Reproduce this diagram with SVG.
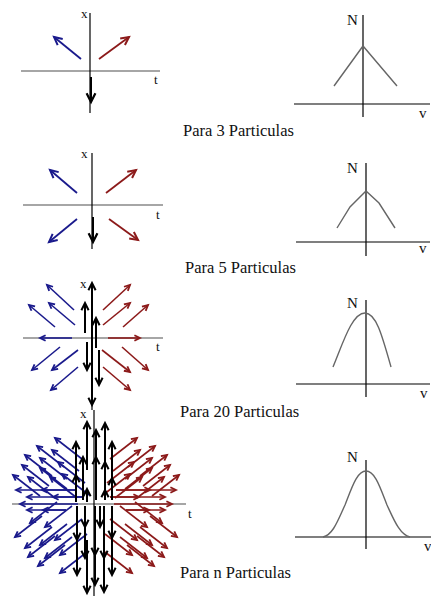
<svg xmlns="http://www.w3.org/2000/svg" width="431" height="596" viewBox="0 0 431 596">
<style>
text{font-family:"Liberation Serif","Times New Roman",serif;fill:#111}
.lbl{font-size:16.5px}
.sm{font-size:13px}
.big{font-size:15px}
.va{stroke:#000;stroke-width:1.2;fill:none}
.ha{stroke:#888;stroke-width:1.6;fill:none}
.hv{stroke:#555;stroke-width:1.5;fill:none}
.cv{stroke:#666;stroke-width:1.4;fill:none}
.b1{stroke:#1a1a8c;stroke-width:1.8;marker-end:url(#mb1)}
.r1{stroke:#8c1a1a;stroke-width:1.8;marker-end:url(#mr1)}
.k1{stroke:#000;stroke-width:2;marker-end:url(#mk1)}
.b{stroke:#1a1a8c;stroke-width:1.6;marker-end:url(#mb)}
.r{stroke:#8c1a1a;stroke-width:1.6;marker-end:url(#mr)}
.k{stroke:#000;stroke-width:2;marker-end:url(#mk)}
</style>
<defs>
<marker id="mb1" viewBox="0 0 10 10" refX="9" refY="5" markerWidth="10" markerHeight="10" markerUnits="userSpaceOnUse" orient="auto" overflow="visible"><path d="M1,1 L9,5 L1,9" fill="none" stroke="#1a1a8c" stroke-width="2"/></marker>
<marker id="mr1" viewBox="0 0 10 10" refX="9" refY="5" markerWidth="10" markerHeight="10" markerUnits="userSpaceOnUse" orient="auto" overflow="visible"><path d="M1,1 L9,5 L1,9" fill="none" stroke="#8c1a1a" stroke-width="2"/></marker>
<marker id="mk1" viewBox="0 0 10 10" refX="9" refY="5" markerWidth="11" markerHeight="11" markerUnits="userSpaceOnUse" orient="auto" overflow="visible"><path d="M1,1 L9,5 L1,9" fill="none" stroke="#000" stroke-width="2"/></marker>
<marker id="mb" viewBox="0 0 10 10" refX="9" refY="5" markerWidth="7" markerHeight="7" markerUnits="userSpaceOnUse" orient="auto" overflow="visible"><path d="M1,1 L9,5 L1,9" fill="none" stroke="#1a1a8c" stroke-width="2.6"/></marker>
<marker id="mr" viewBox="0 0 10 10" refX="9" refY="5" markerWidth="7" markerHeight="7" markerUnits="userSpaceOnUse" orient="auto" overflow="visible"><path d="M1,1 L9,5 L1,9" fill="none" stroke="#8c1a1a" stroke-width="2.6"/></marker>
<marker id="mk" viewBox="0 0 10 10" refX="9" refY="5" markerWidth="9" markerHeight="9" markerUnits="userSpaceOnUse" orient="auto" overflow="visible"><path d="M1,1 L9,5 L1,9" fill="none" stroke="#000" stroke-width="2.2"/></marker>
</defs>

<!-- Panel 1 : 3 particles -->
<g id="p1-xt">
<line class="ha" x1="21" y1="71" x2="160" y2="71"/>
<line class="va" x1="90" y1="13" x2="90" y2="113"/>
<text class="sm" x="81" y="18">x</text>
<text class="sm" x="154" y="84">t</text>
<line class="b1" x1="81" y1="59" x2="54" y2="37"/>
<line class="r1" x1="99" y1="59" x2="129" y2="37"/>
<line class="k1" x1="91" y1="77" x2="91" y2="102"/>
</g>
<g id="p1-nv">
<line class="hv" x1="294" y1="104" x2="430" y2="104"/>
<line class="va" x1="363" y1="15" x2="363" y2="117"/>
<polyline class="cv" points="334,86 363,46 397,86"/>
<text class="big" x="347" y="25">N</text>
<text class="big" x="419" y="118">v</text>
</g>
<text class="lbl" x="183" y="136">Para 3 Particulas</text>

<!-- Panel 2 : 5 particles -->
<g id="p2-xt">
<line class="ha" x1="23" y1="205" x2="163" y2="205"/>
<line class="va" x1="92" y1="153" x2="92" y2="249"/>
<text class="sm" x="81" y="158">x</text>
<text class="sm" x="156" y="219">t</text>
<line class="b1" x1="77" y1="193" x2="50" y2="170"/>
<line class="r1" x1="106" y1="193" x2="136" y2="170"/>
<line class="b1" x1="77" y1="219" x2="49" y2="242"/>
<line class="r1" x1="109" y1="219" x2="138" y2="240"/>
<line class="k1" x1="93" y1="217" x2="93" y2="242"/>
</g>
<g id="p2-nv">
<line class="hv" x1="296" y1="242" x2="430" y2="242"/>
<line class="va" x1="366" y1="163" x2="366" y2="256"/>
<polyline class="cv" points="337,228 350,207 366,191 379,203 395,228"/>
<text class="big" x="347" y="173">N</text>
<text class="big" x="419" y="253">v</text>
</g>
<text class="lbl" x="185" y="273">Para 5 Particulas</text>

<!-- Panel 3 : 20 particles -->
<g id="p3-xt">
<line class="ha" x1="23" y1="338" x2="163" y2="338"/>
<line class="va" x1="92" y1="283" x2="92" y2="410"/>
<text class="sm" x="80" y="288">x</text>
<text class="sm" x="156" y="351">t</text>
<line class="b" x1="74" y1="310" x2="47" y2="285"/>
<line class="b" x1="75" y1="325" x2="49" y2="303"/>
<line class="b" x1="55" y1="327" x2="29" y2="305"/>
<line class="b" x1="72" y1="338" x2="40" y2="338"/>
<line class="b" x1="60" y1="347" x2="32" y2="370"/>
<line class="b" x1="78" y1="350" x2="52" y2="370"/>
<line class="b" x1="78" y1="367" x2="51" y2="390"/>
<line class="r" x1="103" y1="310" x2="130" y2="285"/>
<line class="r" x1="103" y1="325" x2="130" y2="303"/>
<line class="r" x1="123" y1="327" x2="148" y2="305"/>
<line class="r" x1="108" y1="338" x2="140" y2="338"/>
<line class="r" x1="102" y1="350" x2="130" y2="372"/>
<line class="r" x1="122" y1="347" x2="148" y2="370"/>
<line class="r" x1="103" y1="367" x2="130" y2="390"/>
<line class="k" x1="92" y1="338" x2="92" y2="283"/>
<line class="k" x1="92" y1="338" x2="92" y2="405"/>
<line class="k" x1="85" y1="333" x2="85" y2="303"/>
<line class="k" x1="87" y1="342" x2="87" y2="370"/>
<line class="k" x1="96" y1="348" x2="96" y2="318"/>
<line class="k" x1="99" y1="350" x2="99" y2="385"/>
</g>
<g id="p3-nv">
<line class="hv" x1="296" y1="384" x2="430" y2="384"/>
<line class="va" x1="366" y1="300" x2="366" y2="397"/>
<path class="cv" d="M333,367 C343,343 352,313 365,313 C376,313 382,335 391,367"/>
<text class="big" x="347" y="308">N</text>
<text class="big" x="420" y="398">v</text>
</g>
<text class="lbl" x="180" y="417">Para 20 Particulas</text>

<!-- Panel 4 : n particles -->
<g id="p4-xt">
<line class="ha" x1="12" y1="504" x2="186" y2="504"/>
<line class="va" x1="94" y1="410" x2="94" y2="596"/>
<text class="sm" x="80" y="418">x</text>
<text class="sm" x="188" y="518">t</text>
<!-- blue up-left -->
<line class="b" x1="82" y1="459" x2="55" y2="438"/>
<line class="b" x1="64" y1="467" x2="37" y2="446"/>
<line class="b" x1="79" y1="471" x2="52" y2="450"/>
<line class="b" x1="52" y1="476" x2="25" y2="455"/>
<line class="b" x1="67" y1="479" x2="40" y2="458"/>
<line class="b" x1="85" y1="483" x2="58" y2="462"/>
<line class="b" x1="49" y1="486" x2="22" y2="465"/>
<line class="b" x1="67" y1="489" x2="40" y2="468"/>
<line class="b" x1="40" y1="496" x2="13" y2="475"/>
<line class="b" x1="55" y1="498" x2="28" y2="477"/>
<line class="b" x1="77" y1="498" x2="50" y2="477"/>
<line class="b" x1="89" y1="495" x2="62" y2="474"/>
<!-- blue left -->
<line class="b" x1="76" y1="490" x2="16" y2="490"/>
<line class="b" x1="76" y1="490" x2="42" y2="490"/>
<line class="b" x1="82" y1="497" x2="27" y2="497"/>
<line class="b" x1="82" y1="497" x2="53" y2="497"/>
<line class="b" x1="78" y1="504" x2="20" y2="504"/>
<line class="b" x1="66" y1="510" x2="27" y2="510"/>
<line class="b" x1="66" y1="510" x2="43" y2="510"/>
<!-- blue down-left -->
<line class="b" x1="42" y1="516" x2="15" y2="537"/>
<line class="b" x1="57" y1="502" x2="30" y2="523"/>
<line class="b" x1="72" y1="506" x2="45" y2="527"/>
<line class="b" x1="52" y1="527" x2="25" y2="548"/>
<line class="b" x1="67" y1="524" x2="40" y2="545"/>
<line class="b" x1="82" y1="519" x2="55" y2="540"/>
<line class="b" x1="55" y1="536" x2="28" y2="557"/>
<line class="b" x1="72" y1="537" x2="45" y2="558"/>
<line class="b" x1="87" y1="534" x2="60" y2="555"/>
<line class="b" x1="65" y1="545" x2="38" y2="566"/>
<line class="b" x1="87" y1="552" x2="60" y2="573"/>
<!-- red up-right -->
<line class="r" x1="110" y1="459" x2="137" y2="438"/>
<line class="r" x1="128" y1="467" x2="155" y2="446"/>
<line class="r" x1="113" y1="471" x2="140" y2="450"/>
<line class="r" x1="140" y1="476" x2="167" y2="455"/>
<line class="r" x1="125" y1="479" x2="152" y2="458"/>
<line class="r" x1="107" y1="483" x2="134" y2="462"/>
<line class="r" x1="143" y1="486" x2="170" y2="465"/>
<line class="r" x1="125" y1="489" x2="152" y2="468"/>
<line class="r" x1="152" y1="496" x2="179" y2="475"/>
<line class="r" x1="137" y1="498" x2="164" y2="477"/>
<line class="r" x1="115" y1="498" x2="142" y2="477"/>
<line class="r" x1="103" y1="495" x2="130" y2="474"/>
<!-- red right -->
<line class="r" x1="116" y1="490" x2="176" y2="490"/>
<line class="r" x1="116" y1="490" x2="150" y2="490"/>
<line class="r" x1="110" y1="497" x2="165" y2="497"/>
<line class="r" x1="110" y1="497" x2="139" y2="497"/>
<line class="r" x1="114" y1="504" x2="172" y2="504"/>
<line class="r" x1="126" y1="510" x2="165" y2="510"/>
<line class="r" x1="126" y1="510" x2="149" y2="510"/>
<!-- red down-right -->
<line class="r" x1="150" y1="516" x2="177" y2="537"/>
<line class="r" x1="135" y1="502" x2="162" y2="523"/>
<line class="r" x1="120" y1="506" x2="147" y2="527"/>
<line class="r" x1="140" y1="527" x2="167" y2="548"/>
<line class="r" x1="125" y1="524" x2="152" y2="545"/>
<line class="r" x1="110" y1="519" x2="137" y2="540"/>
<line class="r" x1="137" y1="536" x2="164" y2="557"/>
<line class="r" x1="120" y1="537" x2="147" y2="558"/>
<line class="r" x1="105" y1="534" x2="132" y2="555"/>
<line class="r" x1="127" y1="545" x2="154" y2="566"/>
<line class="r" x1="105" y1="552" x2="132" y2="573"/>
<!-- black up -->
<line class="k" x1="76" y1="502" x2="76" y2="442"/>
<line class="k" x1="76" y1="502" x2="76" y2="475"/>
<line class="k" x1="83" y1="500" x2="83" y2="457"/>
<line class="k" x1="87" y1="470" x2="87" y2="422"/>
<line class="k" x1="87" y1="502" x2="87" y2="489"/>
<line class="k" x1="96" y1="500" x2="96" y2="430"/>
<line class="k" x1="96" y1="500" x2="96" y2="457"/>
<line class="k" x1="105" y1="500" x2="105" y2="423"/>
<line class="k" x1="105" y1="500" x2="105" y2="462"/>
<line class="k" x1="105" y1="500" x2="105" y2="490"/>
<line class="k" x1="112" y1="500" x2="112" y2="442"/>
<line class="k" x1="112" y1="500" x2="112" y2="478"/>
<!-- black down -->
<line class="k" x1="77" y1="506" x2="77" y2="540"/>
<line class="k" x1="77" y1="506" x2="77" y2="575"/>
<line class="k" x1="85" y1="506" x2="85" y2="527"/>
<line class="k" x1="85" y1="506" x2="85" y2="558"/>
<line class="k" x1="87" y1="540" x2="87" y2="593"/>
<line class="k" x1="95" y1="506" x2="95" y2="555"/>
<line class="k" x1="95" y1="506" x2="95" y2="585"/>
<line class="k" x1="100" y1="506" x2="100" y2="527"/>
<line class="k" x1="104" y1="506" x2="104" y2="558"/>
<line class="k" x1="104" y1="506" x2="104" y2="592"/>
<line class="k" x1="112" y1="506" x2="112" y2="538"/>
<line class="k" x1="112" y1="506" x2="112" y2="575"/>
</g>
<g id="p4-nv">
<line class="hv" x1="295" y1="537" x2="431" y2="537"/>
<line class="va" x1="366" y1="460" x2="366" y2="549"/>
<path class="cv" d="M323,537 C333,535 338,520 345,505 C352,487 357,471 366,471 C375,471 380,487 387,505 C394,520 400,535 410,537"/>
<text class="big" x="347" y="462">N</text>
<text class="big" x="424" y="551">v</text>
</g>
<text class="lbl" x="180" y="578">Para n Particulas</text>
</svg>
